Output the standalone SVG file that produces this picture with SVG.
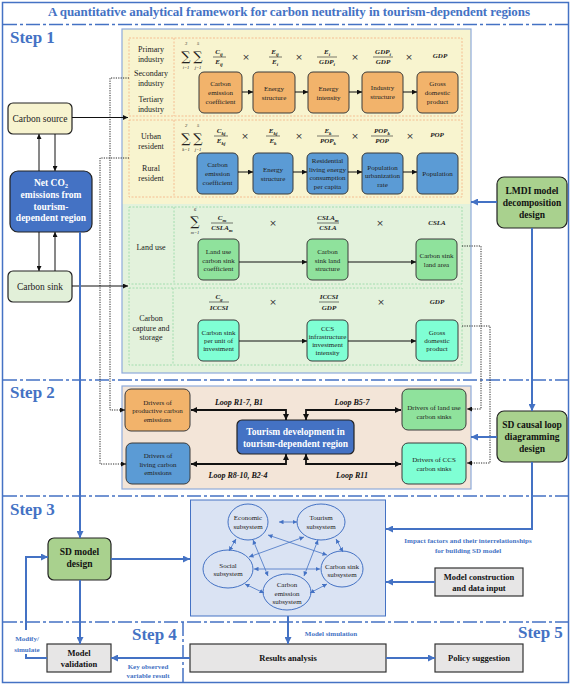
<svg xmlns="http://www.w3.org/2000/svg" width="572" height="685" viewBox="0 0 572 685">
<defs>
<style>
.t{font-family:"Liberation Serif",serif;fill:#222}
.bx{font-family:"Liberation Serif",serif;font-size:7px;text-anchor:middle;fill:#222}
.lb{font-family:"Liberation Serif",serif;font-size:8px;text-anchor:middle;fill:#222}
.m{font-family:"Liberation Serif",serif;font-weight:bold;font-style:italic;font-size:7px;text-anchor:middle;fill:#222}
.sub{font-size:5px}
.lim{font-family:"Liberation Serif",serif;font-style:italic;font-size:4.5px;text-anchor:middle;fill:#222}
.sig{font-family:"DejaVu Serif",serif;font-size:13px;text-anchor:middle;fill:#222}
.x{font-family:"DejaVu Sans",sans-serif;font-size:9px;text-anchor:middle;fill:#333}
.step{font-family:"Liberation Serif",serif;font-weight:bold;font-size:17px;fill:#4472c4}
.wb{font-family:"Liberation Serif",serif;font-weight:bold;font-size:9.5px;text-anchor:middle;fill:#fff}
.kb{font-family:"Liberation Serif",serif;font-weight:bold;font-size:9.5px;text-anchor:middle;fill:#111}
.gk{font-family:"Liberation Serif",serif;font-weight:bold;font-size:8.5px;text-anchor:middle;fill:#111}
.bt{font-family:"Liberation Serif",serif;font-weight:bold;font-size:7px;text-anchor:middle;fill:#4472c4}
.lp{font-family:"Liberation Serif",serif;font-weight:bold;font-style:italic;font-size:8px;text-anchor:middle;fill:#111}
.dd{stroke:#4472c4;stroke-width:1.5;stroke-dasharray:14 3 3 3;fill:none}
.ob{fill:#f2b36b;stroke:#3a3a3a;stroke-width:1}
.bb{fill:#5b9bd5;stroke:#3a3a3a;stroke-width:1}
.gb{fill:#8fe29c;stroke:#3a3a3a;stroke-width:1}
.cb{fill:#7fffd4;stroke:#3a3a3a;stroke-width:1}
.db{fill:#4472c4;stroke:#222;stroke-width:1.2}
.lg{fill:#a9d18e;stroke:#222;stroke-width:1.2}
.gr{fill:#e7e6e6;stroke:#333;stroke-width:1.2}
.od{fill:none;stroke:#f4b183;stroke-width:0.8;stroke-dasharray:2 1.5}
.gd{fill:none;stroke:#93d8a2;stroke-width:0.8;stroke-dasharray:2 1.5}
.fr{stroke:#222;stroke-width:0.6}
.ar{stroke:#111;stroke-width:1;fill:none;marker-end:url(#ah)}
.lo{stroke:#111;stroke-width:1.8;fill:none;marker-start:url(#lh);marker-end:url(#lh)}
.bl{stroke:#4472c4;stroke-width:2;fill:none}
.be{marker-end:url(#bh)}
.dt{stroke:#111;stroke-width:0.9;stroke-dasharray:1.2 1.2;fill:none;marker-end:url(#ah)}
.el{fill:#dae3f3;stroke:#4472c4;stroke-width:1}
.ea{stroke:#4472c4;stroke-width:0.8;fill:none;marker-start:url(#sh);marker-end:url(#sh)}
.es{font-family:"Liberation Serif",serif;font-size:7px;text-anchor:middle;fill:#222}
</style>
<marker id="ah" viewBox="0 0 10 10" refX="10" refY="5" markerWidth="5" markerHeight="5" markerUnits="userSpaceOnUse" orient="auto-start-reverse"><path d="M0,0 L10,5 L0,10 z" fill="#111"/></marker>
<marker id="lh" viewBox="0 0 10 10" refX="10" refY="5" markerWidth="7" markerHeight="6" markerUnits="userSpaceOnUse" orient="auto-start-reverse"><path d="M0,0 L10,5 L0,10 z" fill="#111"/></marker>
<marker id="bh" viewBox="0 0 10 10" refX="10" refY="5" markerWidth="8" markerHeight="7" markerUnits="userSpaceOnUse" orient="auto-start-reverse"><path d="M0,0 L10,5 L0,10 z" fill="#4472c4"/></marker>
<marker id="sh" viewBox="0 0 10 10" refX="10" refY="5" markerWidth="4.5" markerHeight="4.5" markerUnits="userSpaceOnUse" orient="auto-start-reverse"><path d="M0,0 L10,5 L0,10 z" fill="#4472c4"/></marker>
</defs>

<rect x="0" y="0" width="572" height="685" fill="#fff"/>
<rect x="2.5" y="2.5" width="566" height="680" fill="none" stroke="#4472c4" stroke-width="1.5"/>

<text x="289" y="16" font-family="Liberation Serif" font-weight="bold" font-size="13" fill="#4472c4" text-anchor="middle" textLength="482" lengthAdjust="spacing">A quantitative analytical framework for carbon neutrality in tourism-dependent regions</text>

<g id="separators">
<line class="dd" x1="3" y1="24.5" x2="568" y2="24.5"/>
<line class="dd" x1="3" y1="380" x2="568" y2="380"/>
<line class="dd" x1="3" y1="496" x2="568" y2="496"/>
<line class="dd" x1="3" y1="622" x2="568" y2="622"/>
<line class="dd" x1="183" y1="622" x2="183" y2="682"/>
</g>

<text class="step" x="10" y="43">Step 1</text>
<text class="step" x="10" y="398">Step 2</text>
<text class="step" x="10" y="515">Step 3</text>
<text class="step" x="132" y="640">Step 4</text>
<text class="step" x="518" y="638">Step 5</text>

<!-- Step 1 panel -->
<g id="step1-panel">
<rect x="122" y="29" width="349" height="175" fill="#f8f4cf"/>
<rect x="122" y="204" width="349" height="169" fill="#e3f2dc"/>
<rect x="122" y="29" width="349" height="344" fill="none" stroke="#8eaadb" stroke-width="1.2"/>
<rect class="od" x="129" y="38" width="333" height="78"/>
<line class="od" x1="174" y1="38" x2="174" y2="116"/>
<rect class="od" x="129" y="120" width="333" height="77"/>
<line class="od" x1="174" y1="120" x2="174" y2="197"/>
<rect class="gd" x="129" y="207" width="333" height="77"/>
<line class="gd" x1="174" y1="207" x2="174" y2="284"/>
<rect class="gd" x="129" y="288" width="333" height="77"/>
<line class="gd" x1="173" y1="288" x2="173" y2="365"/>
</g>

<g id="industry-row">
<text class="lb" x="151" y="52">Primary</text><text class="lb" x="151" y="62">industry</text>
<text class="lb" x="151" y="76">Secondary</text><text class="lb" x="151" y="86">industry</text>
<text class="lb" x="151" y="102">Tertiary</text><text class="lb" x="151" y="112">industry</text>
<text class="sig" x="186" y="61">∑</text><text class="lim" x="186" y="45">3</text><text class="lim" x="186" y="69">i=1</text>
<text class="sig" x="198" y="61">∑</text><text class="lim" x="198" y="45">5</text><text class="lim" x="198" y="69">j=1</text>
<text class="m" x="219" y="54">C<tspan class="sub" dy="1.5">ij</tspan></text><line class="fr" x1="213" y1="57" x2="226" y2="57"/><text class="m" x="219" y="64">E<tspan class="sub" dy="1.5">ij</tspan></text>
<text class="x" x="246" y="60">×</text>
<text class="m" x="275" y="54">E<tspan class="sub" dy="1.5">ij</tspan></text><line class="fr" x1="269" y1="57" x2="282" y2="57"/><text class="m" x="275" y="64">E<tspan class="sub" dy="1.5">i</tspan></text>
<text class="x" x="299" y="60">×</text>
<text class="m" x="327" y="54">E<tspan class="sub" dy="1.5">i</tspan></text><line class="fr" x1="317" y1="57" x2="337" y2="57"/><text class="m" x="327" y="64">GDP<tspan class="sub" dy="1.5">i</tspan></text>
<text class="x" x="355" y="60">×</text>
<text class="m" x="383" y="54">GDP<tspan class="sub" dy="1.5">i</tspan></text><line class="fr" x1="373" y1="57" x2="393" y2="57"/><text class="m" x="383" y="64">GDP</text>
<text class="x" x="409" y="60">×</text>
<text class="m" x="440" y="58">GDP</text>
</g>

<g id="n-ind-coef"><rect class="ob" x="199" y="72" width="43" height="41" rx="5"/><text class="bx" x="220.5" y="85.5">Carbon</text><text class="bx" x="220.5" y="94.5">emission</text><text class="bx" x="220.5" y="103.5">coefficient</text></g>
<g id="n-ind-es"><rect class="ob" x="253" y="72" width="42" height="41" rx="5"/><text class="bx" x="274" y="91">Energy</text><text class="bx" x="274" y="100">structure</text></g>
<g id="n-ind-ei"><rect class="ob" x="308" y="72" width="41" height="41" rx="5"/><text class="bx" x="328.5" y="91">Energy</text><text class="bx" x="328.5" y="100">intensity</text></g>
<g id="n-ind-is"><rect class="ob" x="362" y="72" width="41" height="41" rx="5"/><text class="bx" x="382.5" y="90">Industry</text><text class="bx" x="382.5" y="99">structure</text></g>
<g id="n-ind-gdp"><rect class="ob" x="417" y="72" width="41" height="41" rx="5"/><text class="bx" x="437.5" y="85.5">Gross</text><text class="bx" x="437.5" y="94.5">domestic</text><text class="bx" x="437.5" y="103.5">product</text></g>

<g id="resident-row">
<text class="lb" x="151" y="139">Urban</text><text class="lb" x="151" y="149">resident</text>
<text class="lb" x="151" y="171">Rural</text><text class="lb" x="151" y="181">resident</text>
<text class="sig" x="186" y="143">∑</text><text class="lim" x="186" y="127">2</text><text class="lim" x="186" y="151">k=1</text>
<text class="sig" x="198" y="143">∑</text><text class="lim" x="198" y="127">5</text><text class="lim" x="198" y="151">j=1</text>
<text class="m" x="221" y="133">C<tspan class="sub" dy="1.5">kj</tspan></text><line class="fr" x1="214" y1="136" x2="228" y2="136"/><text class="m" x="221" y="143">E<tspan class="sub" dy="1.5">kj</tspan></text>
<text class="x" x="245" y="139">×</text>
<text class="m" x="273" y="133">E<tspan class="sub" dy="1.5">kj</tspan></text><line class="fr" x1="266" y1="136" x2="280" y2="136"/><text class="m" x="273" y="143">E<tspan class="sub" dy="1.5">k</tspan></text>
<text class="x" x="299" y="139">×</text>
<text class="m" x="328" y="133">E<tspan class="sub" dy="1.5">k</tspan></text><line class="fr" x1="317" y1="136" x2="339" y2="136"/><text class="m" x="328" y="143">POP<tspan class="sub" dy="1.5">k</tspan></text>
<text class="x" x="355" y="139">×</text>
<text class="m" x="382" y="133">POP<tspan class="sub" dy="1.5">k</tspan></text><line class="fr" x1="371" y1="136" x2="393" y2="136"/><text class="m" x="382" y="143">POP</text>
<text class="x" x="410" y="139">×</text>
<text class="m" x="437" y="137">POP</text>
</g>

<g id="n-res-coef"><rect class="bb" x="197" y="153" width="41" height="41" rx="5"/><text class="bx" x="217.5" y="166.5">Carbon</text><text class="bx" x="217.5" y="175.5">emission</text><text class="bx" x="217.5" y="184.5">coefficient</text></g>
<g id="n-res-es"><rect class="bb" x="253" y="153" width="40" height="41" rx="5"/><text class="bx" x="273" y="172">Energy</text><text class="bx" x="273" y="181">structure</text></g>
<g id="n-res-living"><rect class="bb" x="307" y="153" width="41" height="41" rx="5"/><text class="bx" x="327.5" y="163">Residential</text><text class="bx" x="327.5" y="171.5">living  energy</text><text class="bx" x="327.5" y="180">consumption</text><text class="bx" x="327.5" y="188.5">per capita</text></g>
<g id="n-res-urb"><rect class="bb" x="362" y="153" width="41" height="41" rx="5"/><text class="bx" x="382.5" y="169.5">Population</text><text class="bx" x="382.5" y="178">urbanization</text><text class="bx" x="382.5" y="186.5">rate</text></g>
<g id="n-res-pop"><rect class="bb" x="417" y="153" width="41" height="41" rx="5"/><text class="bx" x="437.5" y="175.5">Population</text></g>

<g id="landuse-row">
<text class="lb" x="151" y="250">Land use</text>
<text class="sig" x="195" y="226">∑</text><text class="lim" x="195" y="211">6</text><text class="lim" x="195" y="234">m=1</text>
<text class="m" x="222" y="220">C<tspan class="sub" dy="1.5">m</tspan></text><line class="fr" x1="211" y1="223" x2="233" y2="223"/><text class="m" x="222" y="230">CSLA<tspan class="sub" dy="1.5">m</tspan></text>
<text class="x" x="273" y="226">×</text>
<text class="m" x="328" y="220">CSLA<tspan class="sub" dy="1.5">m</tspan></text><line class="fr" x1="317" y1="223" x2="339" y2="223"/><text class="m" x="328" y="230">CSLA</text>
<text class="x" x="380" y="226">×</text>
<text class="m" x="437" y="225">CSLA</text>
</g>

<g id="n-land-coef"><rect class="gb" x="198" y="239" width="41" height="41" rx="5"/><text class="bx" x="218.5" y="253.5">Land use</text><text class="bx" x="218.5" y="262.5">carbon sink</text><text class="bx" x="218.5" y="271">coefficient</text></g>
<g id="n-land-struct"><rect class="gb" x="307" y="239" width="41" height="41" rx="5"/><text class="bx" x="327.5" y="253.5">Carbon</text><text class="bx" x="327.5" y="262.5">sink land</text><text class="bx" x="327.5" y="271">structure</text></g>
<g id="n-land-area"><rect class="gb" x="416" y="239" width="41" height="41" rx="5"/><text class="bx" x="436.5" y="257.5">Carbon sink</text><text class="bx" x="436.5" y="266.5">land area</text></g>

<g id="ccs-row">
<text class="lb" x="151" y="321">Carbon</text><text class="lb" x="151" y="331">capture and</text><text class="lb" x="151" y="340">storage</text>
<text class="m" x="219" y="299">C<tspan class="sub" dy="1.5">g</tspan></text><line class="fr" x1="209" y1="302" x2="229" y2="302"/><text class="m" x="219" y="310">ICCSI</text>
<text class="x" x="273" y="305">×</text>
<text class="m" x="329" y="299">ICCSI</text><line class="fr" x1="319" y1="302" x2="339" y2="302"/><text class="m" x="329" y="310">GDP</text>
<text class="x" x="381" y="305">×</text>
<text class="m" x="437" y="304">GDP</text>
</g>

<g id="n-ccs-unit"><rect class="cb" x="198" y="320" width="41" height="41" rx="5"/><text class="bx" x="218.5" y="334.5">Carbon sink</text><text class="bx" x="218.5" y="342.5">per unit of</text><text class="bx" x="218.5" y="350.5">investment</text></g>
<g id="n-ccs-infra"><rect class="cb" x="307" y="320" width="41" height="41" rx="5"/><text class="bx" x="327.5" y="330.5">CCS</text><text class="bx" x="327.5" y="338.5">infrastructure</text><text class="bx" x="327.5" y="346.5">investment</text><text class="bx" x="327.5" y="355">intensity</text></g>
<g id="n-ccs-gdp"><rect class="cb" x="416" y="320" width="42" height="41" rx="5"/><text class="bx" x="437" y="334.5">Gross</text><text class="bx" x="437" y="342.5">domestic</text><text class="bx" x="437" y="350.5">product</text></g>

<!-- left side nodes -->
<g id="n-source"><rect x="8" y="103" width="64" height="31" rx="5" fill="#f7f3cf" stroke="#222" stroke-width="1.2"/><text class="t" x="40" y="121.5" font-size="9.5" text-anchor="middle">Carbon source</text></g>
<g id="n-net"><rect class="db" x="10" y="171" width="82" height="61" rx="8"/><text class="wb" x="51" y="186">Net CO<tspan font-size="6.5" dy="2">2</tspan></text><text class="wb" x="51" y="198">emissions from</text><text class="wb" x="51" y="209.5">tourism-</text><text class="wb" x="51" y="221">dependent region</text></g>
<g id="n-sink"><rect x="8" y="271" width="64" height="31" rx="5" fill="#e2f0d9" stroke="#222" stroke-width="1.2"/><text class="t" x="40" y="289.5" font-size="9.5" text-anchor="middle">Carbon sink</text></g>

<g id="n-lmdi"><rect class="lg" x="497" y="177" width="70" height="51" rx="7"/><text class="kb" x="532" y="194">LMDI model</text><text class="kb" x="532" y="206">decomposition</text><text class="kb" x="532" y="218">design</text></g>
<g id="n-sdcl"><rect class="lg" x="497" y="411" width="70" height="51" rx="7"/><text class="kb" x="532" y="428">SD causal loop</text><text class="kb" x="532" y="440">diagramming</text><text class="kb" x="532" y="452">design</text></g>

<!-- Step 2 panel -->
<g id="step2-panel"><rect x="122" y="386" width="349" height="103" fill="#f3e5d8" stroke="#8eaadb" stroke-width="1.2"/></g>
<g id="n-drv-prod"><rect class="ob" x="125" y="389" width="65" height="42" rx="6"/><text class="bx" x="157.5" y="404.5">Drivers of</text><text class="bx" x="157.5" y="413">productive carbon</text><text class="bx" x="157.5" y="421.5">emissions</text></g>
<g id="n-drv-living"><rect class="bb" x="126" y="443" width="64" height="41" rx="6"/><text class="bx" x="158" y="457.5">Drivers of</text><text class="bx" x="158" y="466.5">living  carbon</text><text class="bx" x="158" y="475">emissions</text></g>
<g id="n-tourism"><rect class="db" x="237" y="420" width="117" height="34" rx="5"/><text class="wb" x="295.5" y="434.5">Tourism development in</text><text class="wb" x="295.5" y="446.5">tourism-dependent region</text></g>
<g id="n-drv-land"><rect class="gb" x="402" y="389" width="64" height="41" rx="6"/><text class="bx" x="434" y="409.5">Drivers  of land use</text><text class="bx" x="434" y="418.5">carbon sinks</text></g>
<g id="n-drv-ccs"><rect class="cb" x="402" y="443" width="64" height="41" rx="6"/><text class="bx" x="434" y="461.5">Drivers  of CCS</text><text class="bx" x="434" y="470.5">carbon sinks</text></g>
<text class="lp" x="239" y="405">Loop R1-7, B1</text>
<text class="lp" x="352" y="405">Loop B5-7</text>
<text class="lp" x="238" y="478">Loop R8-10, B2-4</text>
<text class="lp" x="352" y="478">Loop R11</text>

<!-- Step 3 -->
<g id="n-sdmodel"><rect class="lg" x="48" y="538" width="63" height="42" rx="6"/><text class="kb" x="79.5" y="555">SD model</text><text class="kb" x="79.5" y="567">design</text></g>
<g id="n-subsystems">
<rect x="190.5" y="500" width="195" height="116" fill="#dae3f3" stroke="#4472c4" stroke-width="1"/>
</g>
<g id="n-eco"><ellipse class="el" cx="248" cy="522" rx="20" ry="18"/><text class="es" x="248" y="520">Economic</text><text class="es" x="248" y="529">subsystem</text></g>
<g id="n-tour"><ellipse class="el" cx="321" cy="522" rx="24" ry="18"/><text class="es" x="321" y="520">Tourism</text><text class="es" x="321" y="529">subsystem</text></g>
<g id="n-social"><ellipse class="el" cx="228" cy="569" rx="25" ry="19"/><text class="es" x="228" y="567.5">Social</text><text class="es" x="228" y="576">subsystem</text></g>
<g id="n-csink"><ellipse class="el" cx="342" cy="569" rx="21" ry="18"/><text class="es" x="342" y="568.5">Carbon sink</text><text class="es" x="342" y="577">subsystem</text></g>
<g id="n-cemis"><ellipse class="el" cx="287" cy="592" rx="24" ry="18"/><text class="es" x="287" y="586.5">Carbon</text><text class="es" x="287" y="595.5">emission</text><text class="es" x="287" y="604">subsystem</text></g>
<g id="n-modelcons"><rect class="gr" x="435" y="568" width="88" height="28"/><text class="gk" x="479" y="580">Model construction</text><text class="gk" x="479" y="591">and data input</text></g>

<!-- Step 4 / 5 -->
<g id="n-validation"><rect class="gr" x="47" y="644" width="64" height="28"/><text class="gk" x="79" y="656">Model</text><text class="gk" x="79" y="667">validation</text></g>
<g id="n-results"><rect class="gr" x="190" y="644" width="196" height="28"/><text class="gk" x="288" y="661">Results analysis</text></g>
<g id="n-policy"><rect class="gr" x="435" y="644" width="88" height="28"/><text class="gk" x="479" y="661">Policy suggestion</text></g>

<text class="bt" x="468" y="543">Impact factors and their interrelationships</text>
<text class="bt" x="468" y="552.5">for building  SD model</text>
<text class="bt" x="331" y="635.5">Model simulation</text>
<text class="bt" x="148" y="668.5">Key observed</text>
<text class="bt" x="148" y="678">variable result</text>
<text class="bt" x="27" y="640.5" font-size="7.5">Modify/</text>
<text class="bt" x="27" y="651.5" font-size="7.5">simulate</text>

<g id="connectors">
<path class="ar" d="M242,92 H253"/><path class="ar" d="M295,92 H308"/><path class="ar" d="M349,92 H362"/><path class="ar" d="M403,92 H417"/>
<path class="ar" d="M238,172 H253"/><path class="ar" d="M293,172 H307"/><path class="ar" d="M348,172 H362"/><path class="ar" d="M403,172 H417"/>
<path class="ar" d="M239,262 H307"/><path class="ar" d="M348,262 H416"/>
<path class="ar" d="M239,341 H307"/><path class="ar" d="M348,341 H416"/>
<path class="ar" d="M72,117.5 H128"/>
<path class="ar" d="M72,286 H128"/>
<path class="ar" d="M39,171 V134"/><path class="ar" d="M55,134 V171"/>
<path class="ar" d="M39,232 V271"/><path class="ar" d="M55,271 V232"/>
<path class="dt" d="M129,78 H110 V410 H125"/>
<path class="dt" d="M129,158 H100 V464 H126"/>
<path class="dt" d="M462,246 H481 V409 H467"/>
<path class="dt" d="M462,326 H490 V463 H467"/>
<path class="lo" d="M191,410 H286 V420"/>
<path class="lo" d="M401,410 H306 V420"/>
<path class="lo" d="M191,464 H286 V454"/>
<path class="lo" d="M401,464 H306 V454"/>
<path class="bl be" d="M80,232 V538"/>
<path class="bl be" d="M111,559 H190"/>
<path class="bl be" d="M80,580 V644"/>
<path class="bl be" d="M190,658 H111"/>
<path class="bl be" d="M288,616 V644"/>
<path class="bl be" d="M386,658 H435"/>
<path class="bl" d="M47,658 H26 V654"/>
<path class="bl be" d="M26,630 V557 H48"/>
<path class="bl be" d="M497,202 H471"/>
<path class="bl be" d="M532,228 V411"/>
<path class="bl be" d="M497,437 H471"/>
<path class="bl be" d="M532,462 V529 H386"/>
<path class="bl be" d="M435,582 H386"/>
<path class="ea" d="M279,522 H297"/>
<path class="ea" d="M236,539 L229,551"/>
<path class="ea" d="M336,539 L343,552"/>
<path class="ea" d="M245,584 L264,593"/>
<path class="ea" d="M310,593 L327,584"/>
<path class="ea" d="M253,540 L268,576"/>
<path class="ea" d="M318,540 L304,576"/>
<path class="ea" d="M304,537 L249,557"/>
<path class="ea" d="M268,535 L327,555"/>
<path class="ea" d="M254,569 H320"/>
</g>
</svg>
